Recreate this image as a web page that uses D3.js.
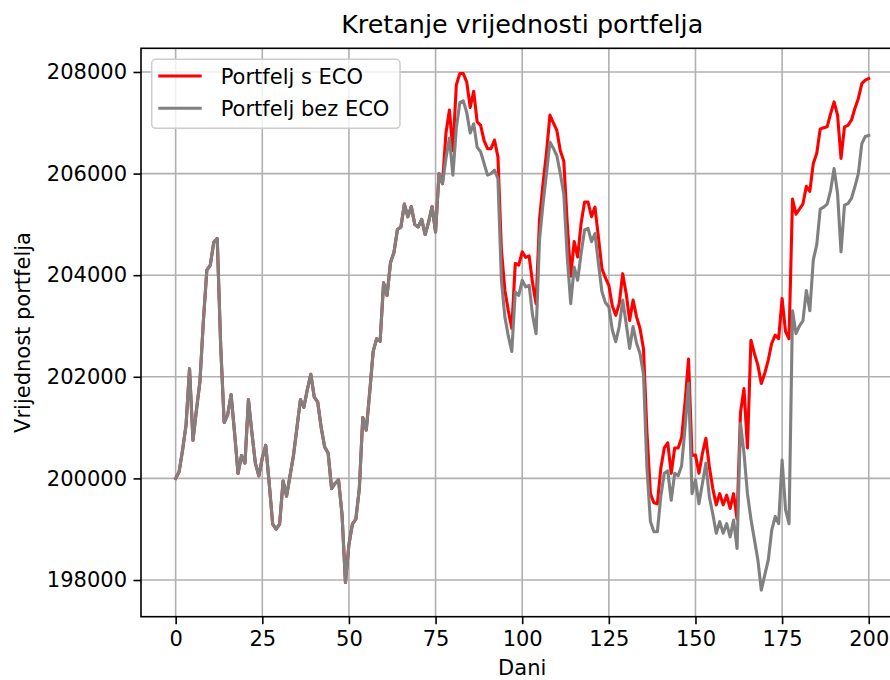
<!DOCTYPE html>
<html>
<head>
<meta charset="utf-8">
<script src="https://cdn.jsdelivr.net/npm/d3@7/dist/d3.min.js"></script>
<style>
  html, body { margin: 0; padding: 0; background: #ffffff; }
  svg { display: block; }
  text { font-family: "DejaVu Sans", sans-serif; fill: #000000; }
</style>
</head>
<body>
<svg id="chart" width="890" height="680"></svg>
<script>
// ---- DATA ----
const titleText = "Kretanje vrijednosti portfelja";
const xLabelText = "Dani";
const yLabelText = "Vrijednost portfelja";
const seriesNames = ["Portfelj s ECO", "Portfelj bez ECO"];
const xTicks = [0, 25, 50, 75, 100, 125, 150, 175, 200];
const yTicks = [198000, 200000, 202000, 204000, 206000, 208000];

// days 0-77: both portfolios identical
const commonStart = [
  200000, 200130, 200560, 201050, 202160, 200750, 201350, 201900, 203100, 204100, // 0-9
  204200, 204650, 204720, 202600, 201100, 201250, 201650, 200900, 200100, 200450, // 10-19
  200300, 201550, 200900, 200300, 200050, 200400, 200650, 199900, 199100, 199000, // 20-29
  199100, 199950, 199650, 200050, 200450, 201000, 201550, 201400, 201750, 202050, // 30-39
  201600, 201500, 201000, 200620, 200500, 199800, 199900, 199970, 199300, 197950, // 40-49
  198700, 199100, 199200, 199800, 201200, 200950, 201700, 202500, 202750, 202700, // 50-59
  203850, 203600, 204250, 204450, 204900, 204950, 205400, 205150, 205350, 205000, // 60-69
  204950, 205100, 204800, 205050, 205350, 204850, 206000, 205800                  // 70-77
];

// days 78-200, portfolio with ECO
const ecoTail = [
  206800, 207250,                                                                 // 78-79
  206450, 207750, 207970, 207970, 207800, 207300, 207620, 207020, 206950, 206650, // 80-89
  206490, 206490, 206660, 206330, 204500, 203700, 203300, 202950, 204230, 204200, // 90-99
  204460, 204350, 204380, 203840, 203440, 205100, 205800, 206400, 207150, 207000, // 100-109
  206850, 206450, 206250, 205020, 203980, 204660, 204360, 205020, 205440, 205440, // 110-119
  205150, 205340, 204750, 204130, 203950, 203800, 203400, 203210, 203440, 204030, // 120-129
  203640, 203110, 203510, 203180, 202950, 202550, 200900, 199700, 199520, 199500, // 130-139
  200200, 200600, 200700, 200100, 200600, 200600, 200800, 201500, 202350, 200450, // 140-149
  200460, 200100, 200490, 200790, 200230, 199800, 199480, 199700, 199480, 199670, // 150-159
  199410, 199700, 199200, 201300, 201770, 200600, 202720, 202460, 202230, 201870, // 160-169
  202070, 202330, 202660, 202820, 202750, 203540, 202890, 202750, 205500, 205200, // 170-179
  205300, 205400, 205750, 205650, 206200, 206400, 206880, 206900, 206920, 207180, // 180-189
  207410, 207150, 206300, 206920, 206950, 207050, 207280, 207480, 207770, 207840, // 190-199
  207870                                                                          // 200
];

// days 78-200, portfolio without ECO
const bezEcoTail = [
  206300, 206700,                                                                 // 78-79
  205970, 206900, 207400, 207430, 207200, 206800, 206980, 206520, 206430, 206200, // 80-89
  205970, 206000, 206070, 205900, 203900, 203180, 202800, 202500, 203670, 203600, // 90-99
  203900, 203770, 203800, 203210, 202850, 204700, 205400, 206000, 206620, 206500, // 100-109
  206350, 206000, 205600, 204360, 203440, 204160, 203900, 204430, 204890, 204920, // 110-119
  204660, 204820, 204230, 203680, 203460, 203380, 202920, 202690, 202990, 203510, // 120-129
  203050, 202560, 202990, 202660, 202460, 202050, 200200, 199150, 198950, 198950, // 130-139
  199650, 200100, 200150, 199570, 200100, 200050, 200250, 201000, 201870, 199700, // 140-149
  199970, 199500, 199900, 200300, 199640, 199300, 198920, 199150, 198920, 199110, // 150-159
  198850, 199180, 198620, 201080, 200500, 199700, 199200, 198800, 198400, 197800, // 160-169
  198100, 198390, 198980, 199250, 199110, 200360, 199380, 199110, 203300, 202850, // 170-179
  203000, 203100, 203700, 203300, 204300, 204600, 205300, 205340, 205400, 205670, // 180-189
  206100, 205610, 204460, 205380, 205410, 205510, 205740, 206000, 206590, 206730, // 190-199
  206750                                                                          // 200
];

const seriesEco = commonStart.concat(ecoTail);
const seriesBezEco = commonStart.concat(bezEcoTail);
const seriesColors = ["#ff0000", "#808080"];

// ---- LAYOUT ----
const W = 890, H = 680;
const plot = { left: 141, right: 903.4, top: 48.3, bottom: 616.7 };
const fs = 21;        // tick/label font size
const titleFs = 25.4;

const svg = d3.select("#chart");

const x = d3.scaleLinear().domain([-10, 210]).range([plot.left, plot.right]);
const y = d3.scaleLinear().domain([197278, 208466]).range([plot.bottom, plot.top]);

// grid
const grid = svg.append("g").attr("class", "grid");
grid.selectAll("line.gx").data(xTicks).enter().append("line")
  .attr("x1", d => x(d)).attr("x2", d => x(d))
  .attr("y1", plot.top).attr("y2", plot.bottom)
  .attr("stroke", "#b0b0b0").attr("stroke-width", 1.6);
grid.selectAll("line.gy").data(yTicks).enter().append("line")
  .attr("x1", plot.left).attr("x2", plot.right)
  .attr("y1", d => y(d)).attr("y2", d => y(d))
  .attr("stroke", "#b0b0b0").attr("stroke-width", 1.6);

// lines
const line = d3.line().x((d, i) => x(i)).y(d => y(d));
svg.append("clipPath").attr("id", "clip").append("rect")
  .attr("x", plot.left).attr("y", plot.top)
  .attr("width", plot.right - plot.left).attr("height", plot.bottom - plot.top);
const lines = svg.append("g").attr("clip-path", "url(#clip)");
[seriesEco, seriesBezEco].forEach((s, k) => {
  lines.append("path").datum(s)
    .attr("d", line)
    .attr("fill", "none")
    .attr("stroke", seriesColors[k])
    .attr("stroke-width", 3.1)
    .attr("stroke-linejoin", "round")
    .attr("stroke-linecap", "square");
});

// axes with d3
const xAxis = d3.axisBottom(x).tickValues(xTicks).tickSize(7.5).tickPadding(6.5).tickFormat(d3.format("d"));
const yAxis = d3.axisLeft(y).tickValues(yTicks).tickSize(7.5).tickPadding(6.5).tickFormat(d3.format("d"));

const gx = svg.append("g").attr("transform", `translate(0,${plot.bottom})`).call(xAxis);
const gy = svg.append("g").attr("transform", `translate(${plot.left},0)`).call(yAxis);
[gx, gy].forEach(g => {
  g.select(".domain").remove();
  g.selectAll(".tick line").attr("stroke", "#000000").attr("stroke-width", 1.6);
  g.selectAll(".tick text").attr("fill", "#000000")
    .style("font-family", "DejaVu Sans").style("font-size", fs + "px");
});

// spines
svg.append("rect").attr("x", plot.left).attr("y", plot.top)
  .attr("width", plot.right - plot.left).attr("height", plot.bottom - plot.top)
  .attr("fill", "none").attr("stroke", "#000000").attr("stroke-width", 1.6);

// title & labels
svg.append("text").attr("x", (plot.left + plot.right) / 2).attr("y", 33.3)
  .attr("text-anchor", "middle").style("font-size", titleFs + "px").text(titleText);
svg.append("text").attr("x", (plot.left + plot.right) / 2).attr("y", 675)
  .attr("text-anchor", "middle").style("font-size", fs + "px").text(xLabelText);
svg.append("text")
  .attr("transform", `translate(30,${(plot.top + plot.bottom) / 2}) rotate(-90)`)
  .attr("text-anchor", "middle").style("font-size", fs + "px").text(yLabelText);

// legend
const lg = svg.append("g");
lg.append("rect").attr("x", 151.7).attr("y", 59.3).attr("width", 248.3).attr("height", 69)
  .attr("rx", 4).attr("fill", "#ffffff").attr("fill-opacity", 0.8)
  .attr("stroke", "#cccccc").attr("stroke-width", 1.5);
const rowsY = [76, 108.3];
seriesNames.forEach((n, k) => {
  lg.append("line").attr("x1", 158.3).attr("x2", 201.7)
    .attr("y1", rowsY[k]).attr("y2", rowsY[k])
    .attr("stroke", seriesColors[k]).attr("stroke-width", 3.1);
  lg.append("text").attr("x", 220.7).attr("y", rowsY[k] + 7.6)
    .style("font-size", fs + "px").text(n);
});
</script>
</body>
</html>
